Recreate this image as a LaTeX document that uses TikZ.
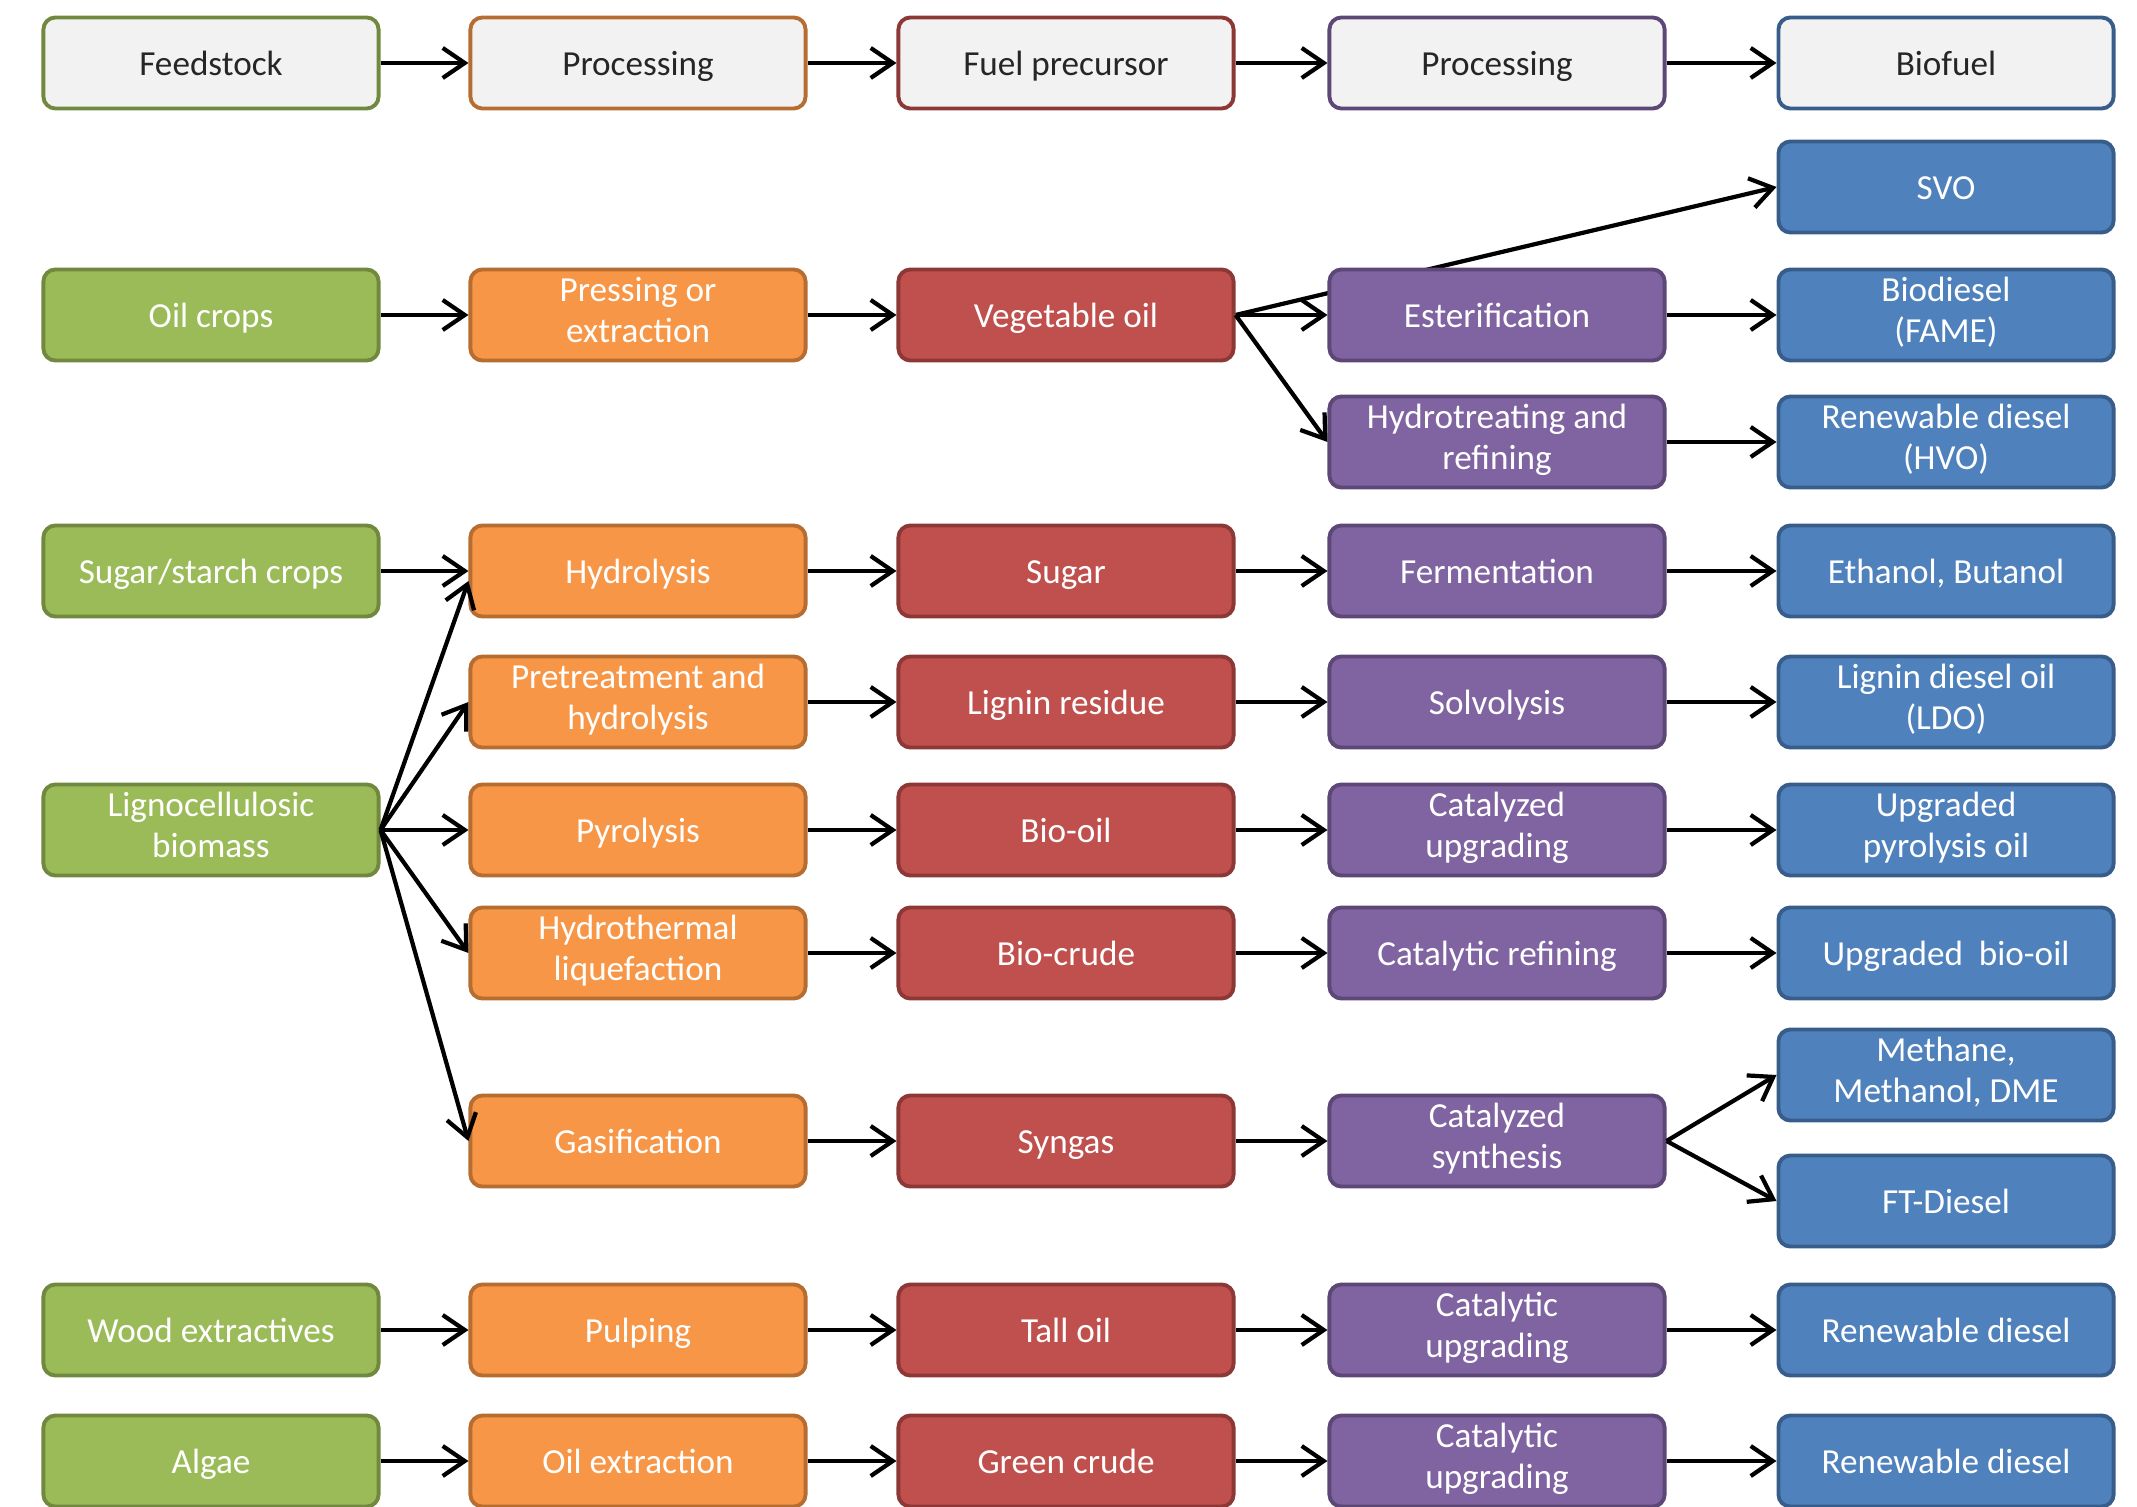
\documentclass[tikz,border=0pt]{standalone}
\usepackage{fontspec}
\setmainfont{Carlito}
\usepackage{tikz}
\usepackage{xcolor}
\usetikzlibrary{arrows.meta}

\definecolor{feedgreen}{HTML}{9BBB59}
\definecolor{feedgreenD}{HTML}{71893F}
\definecolor{procorange}{HTML}{F79646}
\definecolor{procorangeD}{HTML}{B66D31}
\definecolor{precred}{HTML}{C0504D}
\definecolor{precredD}{HTML}{8C3836}
\definecolor{procpurple}{HTML}{8064A2}
\definecolor{procpurpleD}{HTML}{5C4776}
\definecolor{fuelblue}{HTML}{4F81BD}
\definecolor{fuelblueD}{HTML}{385D8A}
\definecolor{headfill}{HTML}{F2F2F2}

\newcommand{\boxstrut}{\rule[-3pt]{0pt}{13pt}}

\pgfdeclarelayer{bg}
\pgfsetlayers{bg,main}

\begin{document}
\begin{tikzpicture}[x=0.01cm,y=-0.01cm,
  box/.style={rounded corners=0.12cm, line width=1.1pt, minimum width=3.35cm,
    minimum height=0.91cm, inner sep=0pt, align=center,
    font=\fontsize{10}{11.7}\selectfont,
    execute at begin node=\boxstrut, execute at end node=\boxstrut},
  head/.style={box, fill=headfill, text=black!85},
  feed/.style={box, fill=feedgreen, draw=feedgreenD, text=white},
  proc/.style={box, fill=procorange, draw=procorangeD, text=white},
  prec/.style={box, fill=precred, draw=precredD, text=white},
  upg/.style={box, fill=procpurple, draw=procpurpleD, text=white},
  fuel/.style={box, fill=fuelblue, draw=fuelblueD, text=white},
  arr/.style={-{Straight Barb[length=0.22cm,width=0.3cm]}, line width=1.2pt}]
\useasboundingbox (0,0) rectangle (2137,1507);
% header
\node[head, draw=feedgreenD] (hfeed) at (211,63) {Feedstock};
\node[head, draw=procorangeD] (hproc) at (638,63) {Processing};
\node[head, draw=precredD] (hprec) at (1066,63) {Fuel precursor};
\node[head, draw=procpurpleD] (hupg) at (1497,63) {Processing};
\node[head, draw=fuelblueD] (hfuel) at (1946,63) {Biofuel};
% oil crops
\node[fuel] (svo) at (1946,187) {SVO};
\node[feed] (oil) at (211,315) {Oil crops};
\node[proc] (press) at (638,315) {Pressing or\\extraction};
\node[prec] (veg) at (1066,315) {Vegetable oil};
\node[upg] (ester) at (1497,315) {Esterification};
\node[fuel] (fame) at (1946,315) {Biodiesel\\(FAME)};
\node[upg] (hydrot) at (1497,442) {Hydrotreating and\\refining};
\node[fuel] (hvo) at (1946,442) {Renewable diesel\\(HVO)};
% sugar
\node[feed] (sugcrop) at (211,571) {Sugar/starch crops};
\node[proc] (hydrol) at (638,571) {Hydrolysis};
\node[prec] (sugar) at (1066,571) {Sugar};
\node[upg] (ferm) at (1497,571) {Fermentation};
\node[fuel] (eth) at (1946,571) {Ethanol, Butanol};
% lignocellulose
\node[proc] (pretr) at (638,702) {Pretreatment and\\hydrolysis};
\node[prec] (lignin) at (1066,702) {Lignin residue};
\node[upg] (solvo) at (1497,702) {Solvolysis};
\node[fuel] (ldo) at (1946,702) {Lignin diesel oil\\(LDO)};
\node[feed] (ligno) at (211,830) {Lignocellulosic\\biomass};
\node[proc] (pyro) at (638,830) {Pyrolysis};
\node[prec] (biooil) at (1066,830) {Bio-oil};
\node[upg] (catupg) at (1497,830) {Catalyzed\\upgrading};
\node[fuel] (upo) at (1946,830) {Upgraded\\pyrolysis oil};
\node[proc] (htl) at (638,953) {Hydrothermal\\liquefaction};
\node[prec] (biocrude) at (1066,953) {Bio-crude};
\node[upg] (catref) at (1497,953) {Catalytic refining};
\node[fuel] (upbio) at (1946,953) {Upgraded\ \ bio-oil};
\node[fuel] (meth) at (1946,1075) {Methane,\\Methanol, DME};
\node[proc] (gasif) at (638,1141) {Gasification};
\node[prec] (syngas) at (1066,1141) {Syngas};
\node[upg] (catsyn) at (1497,1141) {Catalyzed\\synthesis};
\node[fuel] (ftd) at (1946,1201) {FT-Diesel};
% wood and algae
\node[feed] (wood) at (211,1330) {Wood extractives};
\node[proc] (pulp) at (638,1330) {Pulping};
\node[prec] (tall) at (1066,1330) {Tall oil};
\node[upg] (catupw) at (1497,1330) {Catalytic\\upgrading};
\node[fuel] (rdw) at (1946,1330) {Renewable diesel};
\node[feed] (algae) at (211,1461) {Algae};
\node[proc] (oilext) at (638,1461) {Oil extraction};
\node[prec] (green) at (1066,1461) {Green crude};
\node[upg] (catupa) at (1497,1461) {Catalytic\\upgrading};
\node[fuel] (rda) at (1946,1461) {Renewable diesel};

% connectors
\draw[arr] (hfeed) -- (hproc);
\draw[arr] (hproc) -- (hprec);
\draw[arr] (hprec) -- (hupg);
\draw[arr] (hupg) -- (hfuel);
\draw[arr] (oil) -- (press);
\draw[arr] (press) -- (veg);
\begin{pgfonlayer}{bg}
\draw[arr] (veg.east) -- (svo.west);
\end{pgfonlayer}
\draw[arr] (veg.east) -- (ester.west);
\draw[arr] (veg.east) -- (hydrot.west);
\draw[arr] (ester) -- (fame);
\draw[arr] (hydrot) -- (hvo);
\draw[arr] (sugcrop) -- (hydrol);
\draw[arr] (hydrol) -- (sugar);
\draw[arr] (sugar) -- (ferm);
\draw[arr] (ferm) -- (eth);
\draw[arr] (ligno.east) -- ([yshift=-0.1cm]hydrol.west);
\draw[arr] (ligno.east) -- (pretr.west);
\draw[arr] (ligno.east) -- (pyro.west);
\draw[arr] (ligno.east) -- (htl.west);
\draw[arr] (ligno.east) -- (gasif.west);
\draw[arr] (pretr) -- (lignin);
\draw[arr] (lignin) -- (solvo);
\draw[arr] (solvo) -- (ldo);
\draw[arr] (pyro) -- (biooil);
\draw[arr] (biooil) -- (catupg);
\draw[arr] (catupg) -- (upo);
\draw[arr] (htl) -- (biocrude);
\draw[arr] (biocrude) -- (catref);
\draw[arr] (catref) -- (upbio);
\draw[arr] (gasif) -- (syngas);
\draw[arr] (syngas) -- (catsyn);
\draw[arr] (catsyn.east) -- (meth.west);
\draw[arr] (catsyn.east) -- (ftd.west);
\draw[arr] (wood) -- (pulp);
\draw[arr] (pulp) -- (tall);
\draw[arr] (tall) -- (catupw);
\draw[arr] (catupw) -- (rdw);
\draw[arr] (algae) -- (oilext);
\draw[arr] (oilext) -- (green);
\draw[arr] (green) -- (catupa);
\draw[arr] (catupa) -- (rda);
\end{tikzpicture}
\end{document}
